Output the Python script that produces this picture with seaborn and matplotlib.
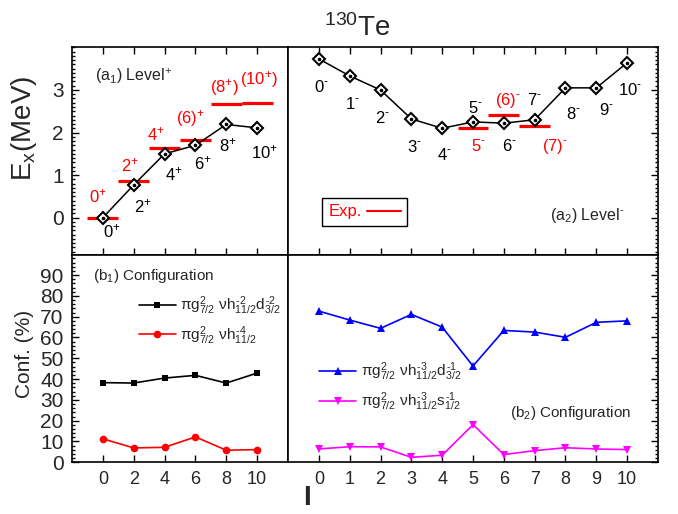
import numpy as np
import pandas as pd
import matplotlib
matplotlib.use('Agg')
import matplotlib.pyplot as plt
from matplotlib.lines import Line2D
from matplotlib.ticker import MultipleLocator, FixedLocator
import seaborn as sns

# ---------------- data ----------------
spin_pos = [0, 2, 4, 6, 8, 10]
e_pos_theory = [0.0, 0.77, 1.50, 1.70, 2.19, 2.11]
e_pos_exp = [0.0, 0.85, 1.63, 1.83, 2.67, 2.69]
lab_pos_theory = [r'$0^{+}$', r'$2^{+}$', r'$4^{+}$', r'$6^{+}$', r'$8^{+}$', r'$10^{+}$']
lab_pos_exp = [r'$0^{+}$', r'$2^{+}$', r'$4^{+}$', r'$(6)^{+}$', r'$(8^{+})$', r'$(10^{+})$']

spin_neg = [0, 1, 2, 3, 4, 5, 6, 7, 8, 9, 10]
e_neg_theory = [3.73, 3.33, 3.00, 2.32, 2.10, 2.25, 2.22, 2.30, 3.05, 3.05, 3.64]
lab_neg_theory = [r'$0^{\text{-}}$', r'$1^{\text{-}}$', r'$2^{\text{-}}$', r'$3^{\text{-}}$',
                  r'$4^{\text{-}}$', r'$5^{\text{-}}$', r'$6^{\text{-}}$', r'$7^{\text{-}}$',
                  r'$8^{\text{-}}$', r'$9^{\text{-}}$', r'$10^{\text{-}}$']
spin_neg_exp = [5, 6, 7]
e_neg_exp = [2.10, 2.41, 2.15]
lab_neg_exp = [r'$5^{\text{-}}$', r'$(6)^{\text{-}}$', r'$(7)^{\text{-}}$']

conf_pos_d = [38.3, 38.1, 40.5, 41.8, 38.1, 42.9]
conf_pos_h = [11.3, 6.9, 7.2, 12.2, 5.8, 6.1]
conf_neg_d = [72.7, 68.4, 64.4, 71.1, 65.0, 46.3, 63.4, 62.6, 60.1, 67.3, 68.0]
conf_neg_s = [6.4, 7.5, 7.4, 2.4, 3.4, 18.1, 3.7, 5.6, 7.0, 6.4, 6.1]

leg_pos = [r'$\pi g^{2}_{7/2}\ \nu h^{\text{-}2}_{11/2}d^{\text{-}2}_{3/2}$',
           r'$\pi g^{2}_{7/2}\ \nu h^{\text{-}4}_{11/2}$']
leg_neg = [r'$\pi g^{2}_{7/2}\ \nu h^{\text{-}3}_{11/2}d^{\text{-}1}_{3/2}$',
           r'$\pi g^{2}_{7/2}\ \nu h^{\text{-}3}_{11/2}s^{\text{-}1}_{1/2}$']

# label offsets in pixels (layout only)
off_pos_theory = [(9, -14), (9, -21), (9, -20), (7, -18), (2, -21), (7, -24)]
off_pos_exp = [(-5, 21), (-4, 16), (-9, 14), (-5, 21), (-2, 17), (2, 24)]
off_neg_theory = [(3, -28), (3, -28), (2, -28), (3, -28), (2, -27), (2, 14),
                  (6, -23), (0, 20), (8, -26), (10, -22), (3, -27)]
off_neg_exp = [(5, -18), (4, 15), (20, -20)]

# ---------------- style ----------------
sns.set_theme(style='ticks')
plt.rcParams['font.family'] = ['Liberation Sans', 'DejaVu Sans']
plt.rcParams['mathtext.fontset'] = 'custom'
plt.rcParams['mathtext.rm'] = 'Liberation Sans'
plt.rcParams['mathtext.it'] = 'Liberation Sans'
plt.rcParams['mathtext.bf'] = 'Liberation Sans:bold'
plt.rcParams['axes.linewidth'] = 1.2

fig = plt.figure(figsize=(6.78, 5.14), dpi=100)
gs = fig.add_gridspec(2, 2, width_ratios=[216, 370], height_ratios=[208, 207],
                      left=0.1062, right=0.9705, top=0.9086, bottom=0.1006,
                      wspace=0, hspace=0)
ax1 = fig.add_subplot(gs[0, 0])
ax2 = fig.add_subplot(gs[0, 1], sharey=ax1)
ax3 = fig.add_subplot(gs[1, 0])
ax4 = fig.add_subplot(gs[1, 1], sharey=ax3)

for ax in (ax1, ax2, ax3, ax4):
    for s in ax.spines.values():
        s.set_color('black')
        s.set_linewidth(1.2)

# ---- top-left ----
xp = np.array(spin_pos)
ax1.hlines(e_pos_exp, xp - 1, xp + 1, colors='red', lw=2.3, zorder=2)
sns.lineplot(x=spin_pos, y=e_pos_theory, ax=ax1, color='black', lw=1.1,
             marker='D', markersize=6.5, markerfacecolor='white',
             markeredgecolor='black', markeredgewidth=1.5, zorder=3)
ax1.plot(spin_pos, e_pos_theory, ls='none', marker='o', ms=1.6, color='black', zorder=4)
for x, y, t, o in zip(spin_pos, e_pos_theory, lab_pos_theory, off_pos_theory):
    ax1.annotate(t, (x, y), xytext=o, textcoords='offset pixels', ha='center',
                 va='center', fontsize=12, color='black')
for x, y, t, o in zip(spin_pos, e_pos_exp, lab_pos_exp, off_pos_exp):
    ax1.annotate(t, (x, y), xytext=o, textcoords='offset pixels', ha='center',
                 va='center', fontsize=12, color='red')
ax1.text(0.106, 0.86, r'(a$_1$) Level$^{+}$', transform=ax1.transAxes,
         fontsize=11.5, ha='left', va='center')

# ---- top-right ----
xn = np.array(spin_neg_exp)
ax2.hlines(e_neg_exp, xn - 0.5, xn + 0.5, colors='red', lw=2.3, zorder=2)
sns.lineplot(x=spin_neg, y=e_neg_theory, ax=ax2, color='black', lw=1.1,
             marker='D', markersize=6.5, markerfacecolor='white',
             markeredgecolor='black', markeredgewidth=1.5, zorder=3)
ax2.plot(spin_neg, e_neg_theory, ls='none', marker='o', ms=1.6, color='black', zorder=4)
for x, y, t, o in zip(spin_neg, e_neg_theory, lab_neg_theory, off_neg_theory):
    ax2.annotate(t, (x, y), xytext=o, textcoords='offset pixels', ha='center',
                 va='center', fontsize=12, color='black')
for x, y, t, o in zip(spin_neg_exp, e_neg_exp, lab_neg_exp, off_neg_exp):
    ax2.annotate(t, (x, y), xytext=o, textcoords='offset pixels', ha='center',
                 va='center', fontsize=12, color='red')
ax2.text(0.708, 0.19, r'(a$_2$) Level$^{\text{-}}$', transform=ax2.transAxes,
         fontsize=11.5, ha='left', va='center')
leg = ax2.legend([Line2D([], [], color='red', lw=1.5)], ['Exp.'], loc='center',
                 bbox_to_anchor=(0.2075, 0.208), markerfirst=False, fontsize=12,
                 handlelength=2.0, handletextpad=0.3, borderpad=0.4,
                 fancybox=False, framealpha=1, labelcolor='red')
leg.get_frame().set_edgecolor('black')
leg.get_frame().set_linewidth(1.0)

# ---- bottom-left ----
sns.lineplot(x=spin_pos, y=conf_pos_d, ax=ax3, color='black', lw=1.2,
             marker='s', markersize=5, markeredgewidth=0, label=leg_pos[0])
sns.lineplot(x=spin_pos, y=conf_pos_h, ax=ax3, color='red', lw=1.2,
             marker='o', markersize=5.5, markeredgewidth=0, label=leg_pos[1])
ax3.legend(loc='upper left', bbox_to_anchor=(0.31, 0.81), frameon=False,
           fontsize=11, handlelength=2.4, handletextpad=0.3, borderpad=0,
           borderaxespad=0, labelspacing=0.45)
ax3.text(0.099, 0.90, r'(b$_1$) Configuration', transform=ax3.transAxes,
         fontsize=11, ha='left', va='center')

# ---- bottom-right ----
sns.lineplot(x=spin_neg, y=conf_neg_d, ax=ax4, color='blue', lw=1.2,
             marker='^', markersize=6, markeredgewidth=0, label=leg_neg[0])
sns.lineplot(x=spin_neg, y=conf_neg_s, ax=ax4, color='magenta', lw=1.2,
             marker='v', markersize=6, markeredgewidth=0, label=leg_neg[1])
ax4.legend(loc='upper left', bbox_to_anchor=(0.085, 0.49), frameon=False,
           fontsize=11, handlelength=2.4, handletextpad=0.3, borderpad=0,
           borderaxespad=0, labelspacing=0.45)
ax4.text(0.60, 0.24, r'(b$_2$) Configuration', transform=ax4.transAxes,
         fontsize=11, ha='left', va='center')

for ax in (ax1, ax2, ax3, ax4):
    ax.set_xlabel('')
    ax.set_ylabel('')

# ---- axes limits and ticks ----
ax1.set_xlim(-2, 12)
ax3.set_xlim(-2, 12)
ax2.set_xlim(-1, 11)
ax4.set_xlim(-1, 11)
ax1.set_ylim(-0.88, 4.01)
ax3.set_ylim(0, 99.6)

ax1.yaxis.set_major_locator(FixedLocator([0, 1, 2, 3]))
ax1.yaxis.set_minor_locator(MultipleLocator(0.1))
ax3.yaxis.set_major_locator(MultipleLocator(10))
ax3.yaxis.set_minor_locator(MultipleLocator(2))
for ax in (ax1, ax3):
    ax.xaxis.set_major_locator(FixedLocator(spin_pos))
for ax in (ax2, ax4):
    ax.xaxis.set_major_locator(FixedLocator(spin_neg))

common = dict(direction='in', color='black', width=1.0)
for ax in (ax1, ax3):
    ax.tick_params(axis='y', which='major', length=5, left=True, right=False,
                   labelleft=True, labelright=False, labelsize=15, pad=6, **common)
    ax.tick_params(axis='y', which='minor', length=2.5, left=True, right=False, **common)
for ax in (ax2, ax4):
    ax.tick_params(axis='y', which='major', length=5, left=False, right=True,
                   labelleft=False, labelright=False, **common)
    ax.tick_params(axis='y', which='minor', length=2.5, left=False, right=True, **common)
for ax in (ax1, ax2):
    ax.tick_params(axis='x', which='major', length=5, top=True, bottom=True,
                   labelbottom=False, **common)
for ax in (ax3, ax4):
    ax.tick_params(axis='x', which='major', length=5, top=False, bottom=True,
                   labelbottom=True, labelsize=13, pad=6, **common)

# ---- figure texts ----
fig.text(0.527, 0.9455, r'$^{130}$Te', ha='center', va='center', fontsize=20)
fig.text(24 / 678, 1 - 128 / 514, r'E$_{\rm x}$(MeV)', rotation=90,
         ha='center', va='center', fontsize=20)
fig.text(24 / 678, 1 - 354 / 514, 'Conf. (%)', rotation=90,
         ha='center', va='center', fontsize=15)
fig.text(307 / 678, 1 - 505 / 514, 'I', ha='center', va='baseline', fontsize=20,
         fontweight='bold')

fig.savefig('out.png', dpi=100)
